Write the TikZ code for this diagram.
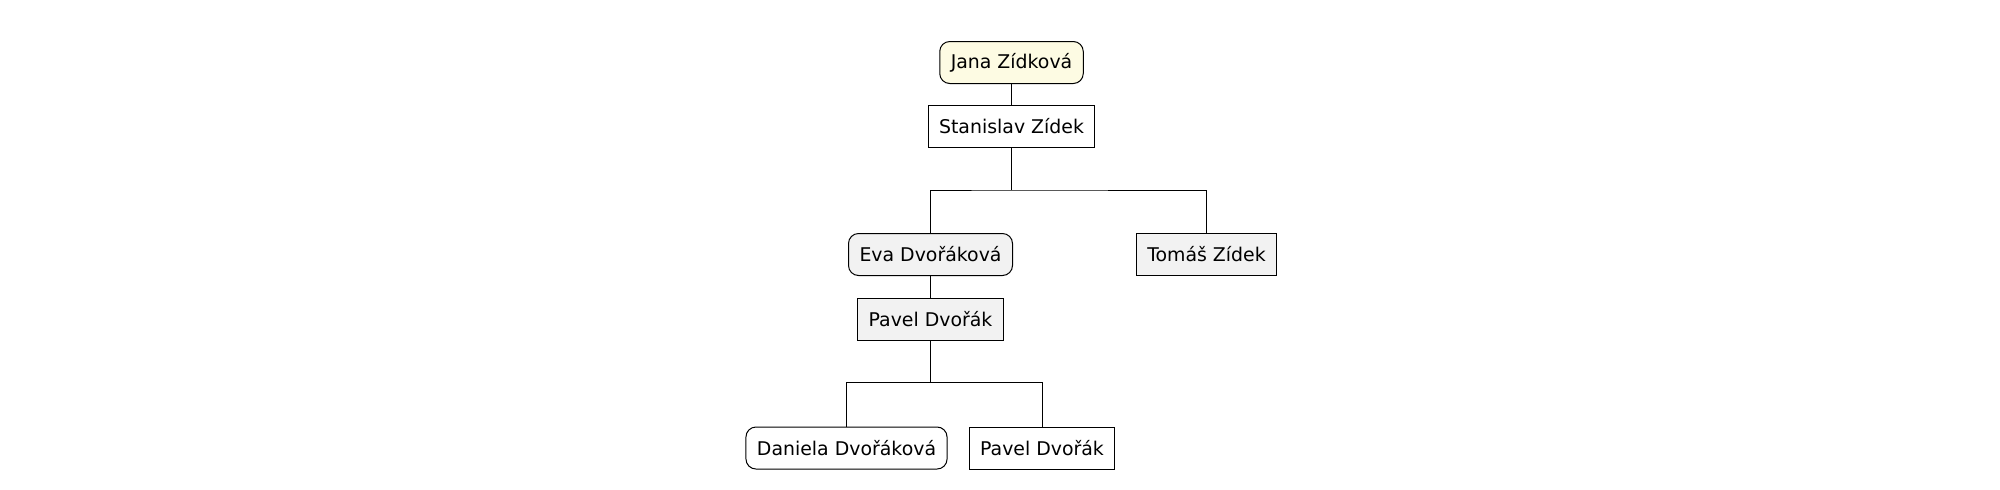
\documentclass[tikz,border=0pt]{standalone}
\usepackage{fontspec}
\setmainfont{DejaVu Sans}
\definecolor{rootfill}{HTML}{FDFBE3}
\definecolor{kinfill}{HTML}{F2F2F2}

\begin{document}
\begin{tikzpicture}[x=0.5pt,y=-0.5pt,
		male/.style={draw, line width=0.5pt, fill=white, font=\fontsize{9.45}{11}\selectfont, inner xsep=5.5pt, minimum height=21pt},
		female/.style={male, rounded corners=5pt},
		rootp/.style={fill=rootfill},
		kin/.style={fill=kinfill},
		link/.style={line width=0.5pt}]
		\useasboundingbox (0,0) rectangle (2000,489);

		% People
		\node[female, rootp] (jana) at (1011.5,62.5) {Jana Zídková};
		\node[male] (stanislav) at (1011.5,126.5) {Stanislav Zídek};
		\node[female, kin] (eva) at (930.5,254.5) {Eva Dvořáková};
		\node[male, kin] (tomas) at (1206.5,254.5) {Tomáš Zídek};
		\node[male, kin] (pavel) at (930.5,319) {Pavel Dvořák};
		\node[female] (daniela) at (846.5,448) {Daniela Dvořáková};
		\node[male] (pavelml) at (1042,448) {Pavel Dvořák};

		% Forks
		\coordinate (fork1) at (1011.5,190);
		\coordinate (fork2) at (930.5,382);

		% Lines
		\draw[link] (jana) -- (stanislav);
		\draw[link] (stanislav) -- (fork1);
		\draw[link] (eva.north) |- (fork1) -| (tomas.north);
		\draw[link] (eva) -- (pavel);
		\draw[link] (pavel) -- (fork2);
		\draw[link] (daniela.north) |- (fork2) -| (pavelml.north);
	\end{tikzpicture}
\end{document}
